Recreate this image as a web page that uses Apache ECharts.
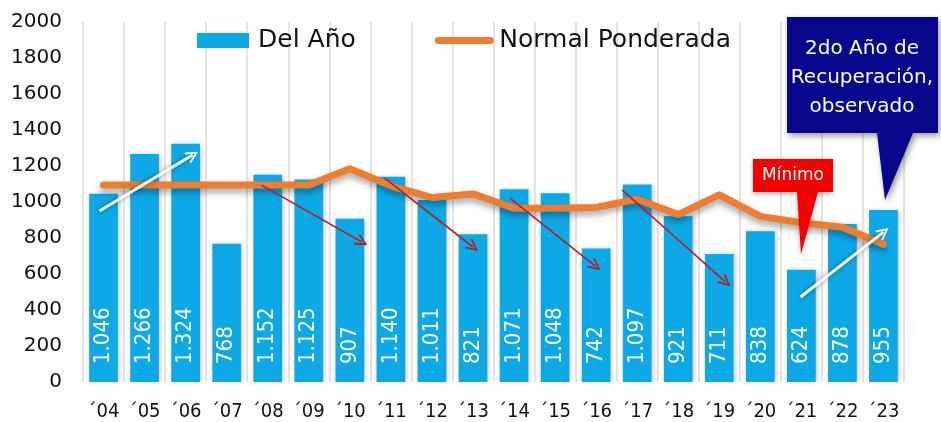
<!DOCTYPE html>
<html>
<head>
<meta charset="utf-8">
<script src="https://cdn.jsdelivr.net/npm/echarts@6/dist/echarts.min.js"></script>
<style>
  html, body { margin: 0; padding: 0; background: #fff; }
  #chart { width: 941px; height: 422px; }
</style>
</head>
<body>
<div id="chart"></div>
<script>
// ── datos ────────────────────────────────────────────────
const YEARS   = ['´04','´05','´06','´07','´08','´09','´10','´11','´12','´13',
                 '´14','´15','´16','´17','´18','´19','´20','´21','´22','´23']
const DEL_ANO = [1046,1266,1324,768,1152,1125,907,1140,1011,821,
                 1071,1048,742,1097,921,711,838,624,878,955]
const NORMAL  = [1095,1095,1095,1095,1095,1095,1185,1090,1025,1045,
                 965,965,970,1015,930,1040,920,885,860,765]
const Y_TICKS = [0,200,400,600,800,1000,1200,1400,1600,1800,2000]

// flechas de anotación: [índice x, valor] -> [índice x, valor]
const RED_ARROWS   = [
  [[3.85, 1094], [6.29, 778]],
  [[6.85, 1133], [9.0, 750]],
  [[9.9, 1022],  [11.98, 644]],
  [[12.63, 1067],[15.15, 556]],
]
const WHITE_ARROWS = [
  [[-0.1, 950],  [2.17, 1261]],
  [[16.98, 472], [19.0, 833]],
]

const BLUE   = '#0DA9E6'
const ORANGE = '#EC7D31'
const FONT   = 'DejaVu Sans'
const NARROW = 'DejaVu Sans Condensed, DejaVu Sans'
const CHEVRON = 'path://M5,0 L10,8.5 L8.8,9.5 L5,2.8 L1.2,9.5 L0,8.5 Z'

const fmt = v => String(v).replace(/\B(?=(\d{3})+$)/g, '.')

function arrowData(list, style) {
  return list.map(([a, b]) => [
    { coord: a, lineStyle: style },
    { coord: b },
  ])
}

const chart = echarts.init(document.getElementById('chart'))

chart.setOption({
  backgroundColor: '#fff',
  animation: false,
  grid: { left: 83, right: 37, top: 22, bottom: 40 },
  legend: {
    left: 192, top: 23,
    itemWidth: 52, itemHeight: 15, itemGap: 79,
    textStyle: { fontFamily: FONT, fontSize: 25, color: '#111', padding: [0, 0, 0, 4] },
    data: [
      { name: 'Del Año', icon: 'rect' },
      {
        name: 'Normal Ponderada',
        itemStyle: { color: 'rgba(0,0,0,0)', borderColor: 'rgba(0,0,0,0)', borderWidth: 0 },
        lineStyle: { width: 7, color: ORANGE, cap: 'round' },
      },
    ],
  },
  xAxis: [{
    type: 'category',
    data: YEARS,
    axisLine: { show: false },
    axisTick: { show: false },
    axisLabel: { interval: 0, fontFamily: NARROW, fontSize: 20, color: '#111', margin: 20 },
    splitLine: { show: true, lineStyle: { color: '#DADADA', width: 1.5 } },
  }, {
    type: 'value', min: -0.5, max: 19.5, show: false,
  }],
  yAxis: {
    type: 'value', min: 0, max: 2000, interval: 200,
    axisLine: { show: false },
    axisTick: { show: false },
    splitLine: { show: false },
    axisLabel: {
      fontFamily: FONT, fontSize: 20, color: '#111', margin: 21,
      formatter: v => Y_TICKS.includes(v) ? String(v) : '',
    },
  },
  series: [{
    name: 'Del Año',
    type: 'bar',
    data: DEL_ANO,
    barCategoryGap: '30%',
    itemStyle: {
      color: BLUE,
      shadowColor: 'rgba(0,0,0,0.18)', shadowBlur: 4, shadowOffsetX: 2,
    },
    label: {
      show: true,
      position: 'insideBottom',
      distance: 18,
      rotate: 90,
      align: 'left',
      verticalAlign: 'middle',
      color: '#fff',
      fontFamily: NARROW,
      fontSize: 22,
      formatter: p => fmt(p.value),
    },
  }, {
    name: 'Normal Ponderada',
    type: 'line',
    data: NORMAL,
    symbol: 'none',
    z: 3,
    lineStyle: {
      color: ORANGE, width: 7, cap: 'round', join: 'round',
      shadowColor: 'rgba(0,0,0,0.35)', shadowBlur: 6, shadowOffsetY: 4,
    },
    itemStyle: { color: ORANGE },
  }, {
    type: 'line',
    xAxisIndex: 1,
    data: [],
    z: 5,
    markLine: {
      silent: true,
      symbol: ['none', CHEVRON],
      symbolSize: [12, 13],
      label: { show: false },
      lineStyle: { type: 'solid' },
      data: [
        ...arrowData(RED_ARROWS, { color: '#B02228', width: 1.6 }),
        ...arrowData(WHITE_ARROWS, {
          color: '#fff', width: 3,
          shadowColor: 'rgba(0,0,0,0.45)', shadowBlur: 5,
        }),
      ],
    },
  }],
  graphic: [
    // recuadro "Mínimo"
    {
      type: 'polygon', z: 20,
      shape: { points: [[753,159],[833,159],[833,192],[818,192],[801,254],[797,192],[753,192]] },
      style: { fill: '#F40000', shadowColor: 'rgba(0,0,0,0.3)', shadowBlur: 5, shadowOffsetY: 2 },
    },
    {
      type: 'text', z: 21, x: 793, y: 176,
      style: {
        text: 'Mínimo', fill: '#fff', fontFamily: FONT, fontSize: 17,
        align: 'center', verticalAlign: 'middle',
      },
    },
    // recuadro azul
    {
      type: 'polygon', z: 20,
      shape: { points: [[787,17],[938,17],[938,133],[913,133],[885,200],[877,133],[787,133]] },
      style: { fill: '#07078C', shadowColor: 'rgba(0,0,0,0.4)', shadowBlur: 6, shadowOffsetX: 2, shadowOffsetY: 3 },
    },
    {
      type: 'text', z: 21, x: 862, y: 78,
      style: {
        text: '2do Año de\nRecuperación,\nobservado',
        fill: '#fff', fontFamily: FONT, fontSize: 20, lineHeight: 29,
        align: 'center', verticalAlign: 'middle',
      },
    },
  ],
})
</script>
</body>
</html>
